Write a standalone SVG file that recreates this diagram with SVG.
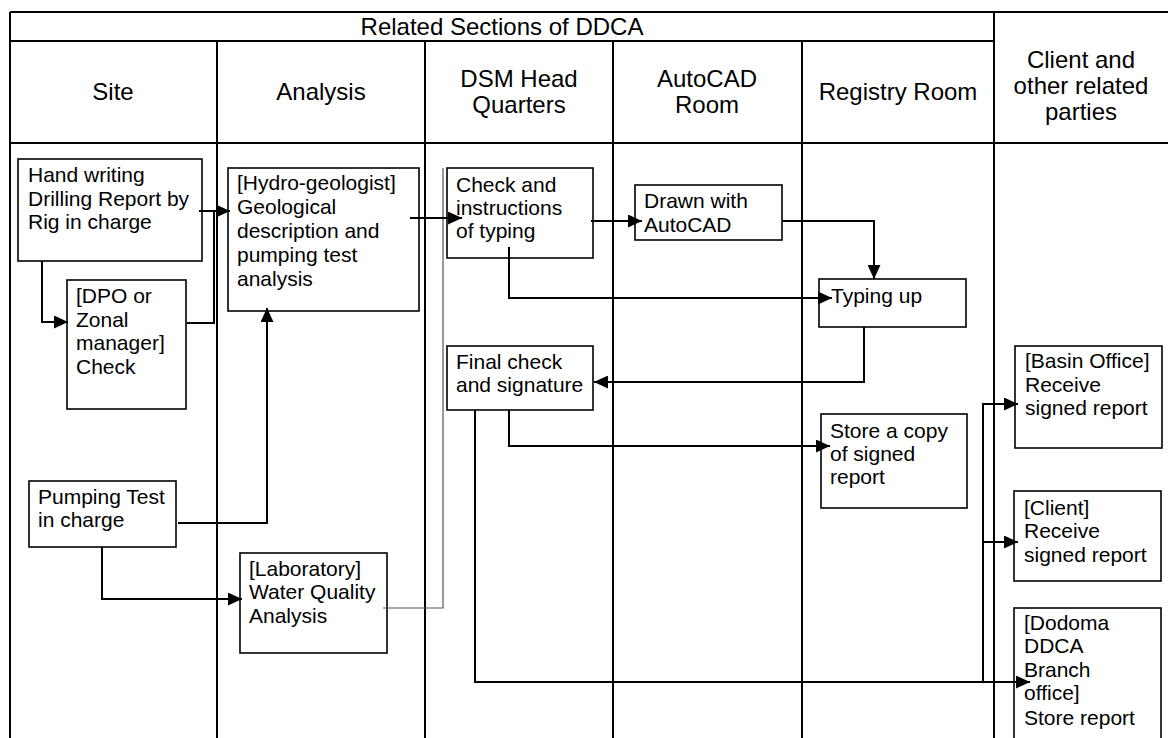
<svg xmlns="http://www.w3.org/2000/svg" width="1168" height="738" viewBox="0 0 1168 738">
  <style>
    text { font-family: "Liberation Sans", Arial, sans-serif; fill: #000; }
    .hdr { font-size: 24px; text-anchor: middle; }
    .lbl { font-size: 21px; }
    .grid { stroke: #000; stroke-width: 2; fill: none; }
    .box { fill: #fff; stroke: #000; stroke-width: 1.6; }
    .link { fill: none; stroke: #000; stroke-width: 2; }
    .arrow { marker-end: url(#head); }
    .thin { fill: none; stroke: #555; stroke-width: 1.2; }
  </style>
  <defs>
    <marker id="head" viewBox="0 0 14 13" refX="14" refY="6.5" markerWidth="14" markerHeight="13" markerUnits="userSpaceOnUse" orient="auto">
      <path d="M0,0 L14,6.5 L0,13 z" fill="#000"/>
    </marker>
  </defs>

  <rect width="1168" height="738" fill="#fff"/>

  <!-- swimlane table -->
  <g id="lanes">
    <path class="grid" d="M10,12 H1168 M10,41 H994 M10,143 H1168 M10,12 V738 M217,41 V738 M425,41 V738 M613,41 V738 M802,41 V738 M994,12 V738"/>
    <text class="hdr" x="502" y="35">Related Sections of DDCA</text>
    <text class="hdr" x="113" y="100">Site</text>
    <text class="hdr" x="321" y="100">Analysis</text>
    <text class="hdr" x="519" y="87">DSM Head</text>
    <text class="hdr" x="519" y="113">Quarters</text>
    <text class="hdr" x="707" y="87">AutoCAD</text>
    <text class="hdr" x="707" y="113">Room</text>
    <text class="hdr" x="898" y="100">Registry Room</text>
    <text class="hdr" x="1081" y="68">Client and</text>
    <text class="hdr" x="1081" y="94">other related</text>
    <text class="hdr" x="1081" y="120">parties</text>
  </g>

  <g id="hand-writing">
    <rect class="box" x="18" y="159" width="184" height="102"/>
    <text class="lbl" x="28" y="182">Hand writing</text>
    <text class="lbl" x="28" y="206">Drilling Report by</text>
    <text class="lbl" x="28" y="229">Rig in charge</text>
  </g>

  <g id="dpo-check">
    <rect class="box" x="67" y="280" width="119" height="129"/>
    <text class="lbl" x="76" y="303">[DPO or</text>
    <text class="lbl" x="76" y="327">Zonal</text>
    <text class="lbl" x="76" y="350">manager]</text>
    <text class="lbl" x="76" y="374">Check</text>
  </g>

  <g id="pumping-test">
    <rect class="box" x="29" y="481" width="147" height="66"/>
    <text class="lbl" x="38" y="504">Pumping Test</text>
    <text class="lbl" x="38" y="527">in charge</text>
  </g>

  <g id="hydro-geologist">
    <rect class="box" x="228" y="168" width="191" height="143"/>
    <text class="lbl" x="237" y="190">[Hydro-geologist]</text>
    <text class="lbl" x="237" y="214">Geological</text>
    <text class="lbl" x="237" y="238">description and</text>
    <text class="lbl" x="237" y="262">pumping test</text>
    <text class="lbl" x="237" y="286">analysis</text>
  </g>

  <g id="laboratory">
    <rect class="box" x="240" y="553" width="147" height="100"/>
    <text class="lbl" x="249" y="576">[Laboratory]</text>
    <text class="lbl" x="249" y="599">Water Quality</text>
    <text class="lbl" x="249" y="623">Analysis</text>
  </g>

  <g id="check-instructions">
    <rect class="box" x="447" y="168" width="146" height="90"/>
    <text class="lbl" x="456" y="192">Check and</text>
    <text class="lbl" x="456" y="215">instructions</text>
    <text class="lbl" x="456" y="238">of typing</text>
  </g>

  <g id="final-check">
    <rect class="box" x="447" y="346" width="146" height="64"/>
    <text class="lbl" x="456" y="369">Final check</text>
    <text class="lbl" x="456" y="392">and signature</text>
  </g>

  <g id="autocad">
    <rect class="box" x="635" y="185" width="147" height="55"/>
    <text class="lbl" x="644" y="208">Drawn with</text>
    <text class="lbl" x="644" y="232">AutoCAD</text>
  </g>

  <g id="typing-up">
    <rect class="box" x="819" y="279" width="147" height="48"/>
    <text class="lbl" x="831" y="303">Typing up</text>
  </g>

  <g id="store-copy">
    <rect class="box" x="821" y="414" width="146" height="94"/>
    <text class="lbl" x="830" y="438">Store a copy</text>
    <text class="lbl" x="830" y="461">of signed</text>
    <text class="lbl" x="830" y="484">report</text>
  </g>

  <g id="basin-office">
    <rect class="box" x="1015" y="346" width="147" height="102"/>
    <text class="lbl" x="1025" y="368">[Basin Office]</text>
    <text class="lbl" x="1025" y="392">Receive</text>
    <text class="lbl" x="1025" y="415">signed report</text>
  </g>

  <g id="client">
    <rect class="box" x="1014" y="491" width="147" height="90"/>
    <text class="lbl" x="1024" y="515">[Client]</text>
    <text class="lbl" x="1024" y="538">Receive</text>
    <text class="lbl" x="1024" y="562">signed report</text>
  </g>

  <g id="dodoma-branch">
    <rect class="box" x="1014" y="608" width="147" height="140"/>
    <text class="lbl" x="1024" y="630">[Dodoma</text>
    <text class="lbl" x="1024" y="653">DDCA</text>
    <text class="lbl" x="1024" y="677">Branch</text>
    <text class="lbl" x="1024" y="700">office]</text>
    <text class="lbl" x="1024" y="725">Store report</text>
  </g>

  <!-- connectors, drawn over the boxes so the arrow tips stay visible -->
  <g id="connectors">
    <path class="thin" d="M383,608 H443 V168"/>
    <path class="link arrow" d="M42,261 V322 H68"/>
    <path class="link arrow" d="M199,211 H230"/>
    <path class="link" d="M187,323 H214 V211"/>
    <path class="link arrow" d="M410,218 H462"/>
    <path class="link arrow" d="M178,523 H267 V308"/>
    <path class="link arrow" d="M102,547 V599 H242"/>
    <path class="link arrow" d="M591,221 H642"/>
    <path class="link arrow" d="M782,221 H874 V279"/>
    <path class="link arrow" d="M509,247 V298 H832"/>
    <path class="link arrow" d="M864,327 V382 H594"/>
    <path class="link arrow" d="M509,410 V446 H830"/>
    <path class="link arrow" d="M475,410 V682 H1030"/>
    <path class="link arrow" d="M983,682 V404 H1018"/>
    <path class="link arrow" d="M983,542 H1018"/>
  </g>
</svg>
